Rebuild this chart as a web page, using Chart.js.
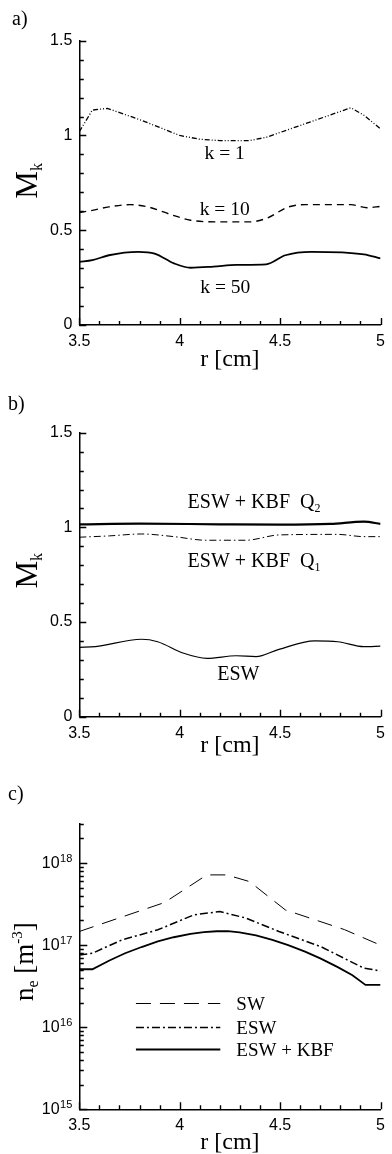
<!DOCTYPE html>
<html>
<head>
<meta charset="utf-8">
<script src="https://cdn.jsdelivr.net/npm/chart.js@4.4.1/dist/chart.umd.min.js"></script>
<style>
  html, body { margin: 0; padding: 0; background: #fff; }
  #page { position: relative; width: 392px; height: 1154px; overflow: hidden; background: #fff; }
  canvas { position: absolute; left: 0; }
</style>
</head>
<body>
<div id="page">
  <canvas id="chartA" width="392" height="380" style="top:0px"></canvas>
  <canvas id="chartB" width="392" height="390" style="top:380px"></canvas>
  <canvas id="chartC" width="392" height="384" style="top:770px"></canvas>
</div>
<script>
const SERIF = '"Liberation Serif", "Times New Roman", serif'
const SANS = '"Liberation Sans", Arial, sans-serif'

// a) M_k against r for k = 1, 10, 50
const rK1 = [3.5, 3.565, 3.64, 3.81, 4.0, 4.1, 4.2, 4.347, 4.43, 4.852, 4.917, 5.0]
const mK1 = [1.02, 1.134, 1.143, 1.08, 1.0, 0.98, 0.973, 0.973, 0.99, 1.146, 1.107, 1.035]
const rK10 = [3.5, 3.565, 3.647, 3.752, 3.842, 3.972, 4.054, 4.184, 4.347, 4.43, 4.542, 4.624, 4.852, 4.933, 5.0]
const mK10 = [0.593, 0.605, 0.623, 0.635, 0.623, 0.577, 0.553, 0.544, 0.544, 0.562, 0.623, 0.635, 0.635, 0.619, 0.626]
const rK50 = [3.5, 3.565, 3.647, 3.793, 3.875, 3.972, 4.054, 4.168, 4.282, 4.43, 4.526, 4.656, 4.917, 5.0]
const mK50 = [0.333, 0.342, 0.368, 0.386, 0.377, 0.325, 0.302, 0.308, 0.317, 0.32, 0.368, 0.386, 0.373, 0.351]

// b) M_k for ESW, ESW + KBF Q1 and Q2
const rQ2 = [3.5, 3.8, 4.2, 4.5, 4.75, 4.917, 5.0]
const mQ2 = [1.016, 1.02, 1.016, 1.014, 1.018, 1.03, 1.018]
const rQ1 = [3.5, 3.65, 3.81, 3.972, 4.13, 4.33, 4.494, 4.787, 4.917, 5.0]
const mQ1 = [0.948, 0.955, 0.965, 0.951, 0.932, 0.932, 0.96, 0.963, 0.951, 0.951]
const rEswB = [3.5, 3.58, 3.81, 3.89, 4.02, 4.135, 4.282, 4.38, 4.494, 4.672, 4.787, 4.917, 5.0]
const mEswB = [0.366, 0.37, 0.409, 0.396, 0.335, 0.308, 0.322, 0.317, 0.356, 0.40, 0.396, 0.37, 0.373]

// c) electron density n_e [m^-3]
const rSW = [3.5, 3.924, 4.135, 4.233, 4.347, 4.526, 4.82, 5.0]
const nSW = [1.47e17, 3.31e17, 7.19e17, 7.19e17, 5.97e17, 2.69e17, 1.55e17, 1.0e17]
const rESW = [3.5, 3.565, 3.712, 3.891, 4.07, 4.2, 4.33, 4.494, 4.705, 4.917, 5.0]
const nESW = [7.62e16, 7.98e16, 1.16e17, 1.54e17, 2.34e17, 2.57e17, 2.14e17, 1.47e17, 9.55e16, 5.25e16, 4.86e16]
const rKBF = [3.5, 3.565, 3.65, 3.728, 3.81, 3.891, 3.97, 4.054, 4.12, 4.184, 4.24, 4.298, 4.38, 4.461, 4.54, 4.624, 4.70, 4.787, 4.86, 4.925, 5.0]
const nKBF = [5.09e16, 5.09e16, 6.5e16, 7.98e16, 9.5e16, 1.11e17, 1.25e17, 1.37e17, 1.44e17, 1.48e17, 1.48e17, 1.43e17, 1.32e17, 1.16e17, 1.0e17, 8.36e16, 6.9e16, 5.40e16, 4.3e16, 3.28e16, 3.28e16]

// axis ticks
const rTickLabels = [3.5, 4, 4.5, 5]
const mTickLabels = [0, 0.5, 1, 1.5]
const nDecades = [15, 16, 17, 18]

const isLabelled = (v, list) => list.some(l => Math.abs(l - v) < 1e-6)

function series(xs, ys, style) {
  return Object.assign({
    data: xs.map((x, i) => ({ x: x, y: ys[i] })),
    borderColor: '#000',
    pointRadius: 0,
    fill: false,
    cubicInterpolationMode: 'monotone'
  }, style)
}

// text made of pieces (for sub/superscripts), baseline at y
function drawRich(ctx, parts, x, y, align) {
  let total = 0
  parts.forEach(p => {
    ctx.font = p.size + 'px ' + (p.family || SERIF)
    p.w = ctx.measureText(p.t).width
    total += p.w
  })
  let cx = align === 'center' ? x - total / 2 : (align === 'right' ? x - total : x)
  ctx.textAlign = 'left'
  ctx.textBaseline = 'alphabetic'
  parts.forEach(p => {
    ctx.font = p.size + 'px ' + (p.family || SERIF)
    ctx.fillText(p.t, cx, y + (p.dy || 0))
    cx += p.w
  })
}

const decor = {
  id: 'decor',
  afterDraw(chart, args, opts) {
    const { ctx, chartArea, scales } = chart
    const xs = scales.x, ys = scales.y
    ctx.save()
    ctx.fillStyle = '#000'
    ctx.strokeStyle = '#000'
    ctx.setLineDash([])
    ctx.globalAlpha = 1

    // inward tick marks
    ctx.lineWidth = 1.4
    ctx.beginPath()
    xs.ticks.forEach(t => {
      const px = Math.round(xs.getPixelForValue(t.value)) + 0.5
      const len = isLabelled(t.value, rTickLabels) ? 7 : 4
      ctx.moveTo(px, chartArea.bottom)
      ctx.lineTo(px, chartArea.bottom - len)
    })
    ys.ticks.forEach(t => {
      const py = Math.round(ys.getPixelForValue(t.value)) + 0.5
      let major
      if (opts.log) major = Math.abs(Math.log10(t.value) - Math.round(Math.log10(t.value))) < 1e-6
      else major = isLabelled(t.value, mTickLabels)
      const len = major ? (opts.log ? 8 : 7) : 4.5
      ctx.moveTo(chartArea.left, py)
      ctx.lineTo(chartArea.left + len, py)
    })
    ctx.stroke()

    // log axis labels 10^n
    if (opts.log) {
      nDecades.forEach(e => {
        const py = ys.getPixelForValue(Math.pow(10, e))
        ctx.font = '11px ' + SANS
        const we = ctx.measureText(String(e)).width
        const right = chartArea.left - 7
        ctx.textAlign = 'left'
        ctx.textBaseline = 'alphabetic'
        ctx.fillText(String(e), right - we, py - 1)
        ctx.font = '16px ' + SANS
        ctx.textAlign = 'right'
        ctx.textBaseline = 'middle'
        ctx.fillText('10', right - we - 0.5, py + 0.5)
      })
    }

    // panel letter
    drawRich(ctx, [{ t: opts.letter, size: 20 }], opts.letterX, opts.letterY, 'left')

    // rotated y title
    ctx.save()
    ctx.translate(opts.yTitleX, (chartArea.top + chartArea.bottom) / 2 + opts.yTitleDy)
    ctx.rotate(-Math.PI / 2)
    drawRich(ctx, opts.yTitle, 0, 0, 'center')
    ctx.restore()

    // curve labels, anchored in data units
    ;(opts.labels || []).forEach(l => {
      drawRich(ctx, l.parts, xs.getPixelForValue(l.x), ys.getPixelForValue(l.y), 'center')
    })

    // legend
    if (opts.legend) {
      const lg = opts.legend
      chart.data.datasets.forEach((ds, i) => {
        const py = Math.round(ys.getPixelForValue(lg.rows[i])) + 0.5
        ctx.save()
        ctx.lineWidth = ds.borderWidth
        ctx.setLineDash(ds.borderDash || [])
        ctx.beginPath()
        ctx.moveTo(xs.getPixelForValue(lg.x0), py)
        ctx.lineTo(xs.getPixelForValue(lg.x1), py)
        ctx.stroke()
        ctx.restore()
        drawRich(ctx, [{ t: ds.label, size: 19 }], xs.getPixelForValue(lg.xText), py + 6, 'left')
      })
    }
    ctx.restore()
  }
}

function baseOptions(p) {
  return {
    responsive: false,
    animation: false,
    devicePixelRatio: 1,
    layout: { padding: { top: p.top, right: 6, bottom: 0, left: 0 } },
    plugins: { legend: { display: false }, tooltip: { enabled: false }, decor: p.decor },
    scales: {
      x: {
        type: 'linear', min: 3.5, max: 5,
        afterFit: s => { s.height = p.xHeight },
        border: { display: true, color: '#000', width: 1.5 },
        grid: { display: true, drawOnChartArea: false, drawTicks: false },
        ticks: {
          stepSize: 0.1, autoSkip: false, maxRotation: 0, padding: 7, color: '#000',
          font: { family: SANS, size: 16 },
          callback: v => isLabelled(v, rTickLabels) ? String(+v.toFixed(1)) : ''
        },
        title: {
          display: true, text: 'r [cm]', color: '#000',
          font: { family: SERIF, size: 24, lineHeight: 1 },
          padding: { top: 0, bottom: p.titlePad }
        }
      },
      y: p.y
    }
  }
}

function linearY() {
  return {
    type: 'linear', min: 0, max: 1.5,
    afterFit: s => { s.width = 79.3 },
    border: { display: true, color: '#000', width: 1.5 },
    grid: { display: true, drawOnChartArea: false, drawTicks: false },
    ticks: {
      stepSize: 0.1, autoSkip: false, padding: 7, color: '#000',
      font: { family: SANS, size: 16 },
      callback: v => isLabelled(v, mTickLabels) ? String(+v.toFixed(1)) : ''
    }
  }
}

const mkTitle = [{ t: 'M', size: 31 }, { t: 'k', size: 16, dy: 5 }]

new Chart(document.getElementById('chartA'), {
  type: 'line',
  data: {
    datasets: [
      series(rK1, mK1, { label: 'k = 1', borderWidth: 1.3, borderDash: [5, 2, 1, 2, 1, 2], cubicInterpolationMode: 'default', tension: 0 }),
      series(rK10, mK10, { label: 'k = 10', borderWidth: 1.4, borderDash: [7, 5] }),
      series(rK50, mK50, { label: 'k = 50', borderWidth: 1.8 })
    ]
  },
  options: baseOptions({
    top: 40.7, xHeight: 55, titlePad: 8.5, y: linearY(),
    decor: {
      letter: 'a)', letterX: 12, letterY: 24.5,
      yTitle: mkTitle, yTitleX: 37, yTitleDy: -2,
      labels: [
        { parts: [{ t: 'k = 1', size: 19.5 }], x: 4.224, y: 0.876 },
        { parts: [{ t: 'k = 10', size: 19.5 }], x: 4.224, y: 0.58 },
        { parts: [{ t: 'k = 50', size: 19.5 }], x: 4.227, y: 0.17 }
      ]
    }
  }),
  plugins: [decor]
})

new Chart(document.getElementById('chartB'), {
  type: 'line',
  data: {
    datasets: [
      series(rQ2, mQ2, { label: 'ESW + KBF Q2', borderWidth: 2.2 }),
      series(rQ1, mQ1, { label: 'ESW + KBF Q1', borderWidth: 1, borderDash: [7, 3, 1.5, 3] }),
      series(rEswB, mEswB, { label: 'ESW', borderWidth: 1.2 })
    ]
  },
  options: baseOptions({
    top: 52.7, xHeight: 53.3, titlePad: 12, y: linearY(),
    decor: {
      letter: 'b)', letterX: 8, letterY: 30,
      yTitle: mkTitle, yTitleX: 37, yTitleDy: -4,
      labels: [
        { parts: [{ t: 'ESW + KBF  Q', size: 20 }, { t: '2', size: 12, dy: 4 }], x: 4.37, y: 1.102 },
        { parts: [{ t: 'ESW + KBF  Q', size: 20 }, { t: '1', size: 12, dy: 4 }], x: 4.37, y: 0.792 },
        { parts: [{ t: 'ESW', size: 20 }], x: 4.292, y: 0.194 }
      ]
    }
  }),
  plugins: [decor]
})

const logY = {
  type: 'logarithmic', min: 1e15, max: 3e18,
  afterFit: s => { s.width = 79.3 },
  afterBuildTicks: s => {
    const ticks = []
    for (let e = 15; e <= 18; e++) {
      for (let m = 1; m <= 9; m++) {
        const v = m * Math.pow(10, e)
        if (v <= 3e18 * 1.0001) ticks.push({ value: v })
      }
    }
    s.ticks = ticks
  },
  border: { display: true, color: '#000', width: 1.5 },
  grid: { display: true, drawOnChartArea: false, drawTicks: false },
  ticks: { display: false, autoSkip: false }
}

new Chart(document.getElementById('chartC'), {
  type: 'line',
  data: {
    datasets: [
      series(rSW, nSW, { label: 'SW', borderWidth: 1, borderDash: [15, 9], cubicInterpolationMode: 'default', tension: 0 }),
      series(rESW, nESW, { label: 'ESW', borderWidth: 1.5, borderDash: [8, 3, 2, 3], cubicInterpolationMode: 'default', tension: 0 }),
      series(rKBF, nKBF, { label: 'ESW + KBF', borderWidth: 1.8, cubicInterpolationMode: 'default', tension: 0 })
    ]
  },
  options: baseOptions({
    top: 54, xHeight: 44.7, titlePad: -1, y: logY,
    decor: {
      log: true,
      letter: 'c)', letterX: 8, letterY: 30,
      yTitle: [
        { t: 'n', size: 27 }, { t: 'e', size: 16, dy: 5 },
        { t: ' [m', size: 27 }, { t: '-3', size: 15, dy: -11 }, { t: ']', size: 27 }
      ],
      yTitleX: 33, yTitleDy: -5,
      legend: { x0: 3.782, x1: 4.202, xText: 4.282, rows: [1.98e16, 1.02e16, 5.4e15] }
    }
  }),
  plugins: [decor]
})
</script>
</body>
</html>
